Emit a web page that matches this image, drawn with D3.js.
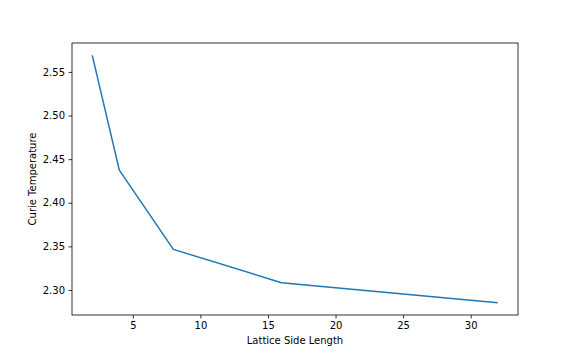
<!DOCTYPE html>
<html>
<head>
<meta charset="utf-8">
<script src="https://cdn.jsdelivr.net/npm/d3@7"></script>
<style>
  body { margin: 0; background: #fff; }
  text { font-family: "DejaVu Sans", sans-serif; }
</style>
</head>
<body>
<div id="chart"></div>
<script>
// Data
const sideLengths = [2, 4, 8, 16, 32]
const curieTemps = [2.569, 2.4375, 2.3466, 2.3084, 2.2855]
const xTicks = [5, 10, 15, 20, 25, 30]
const yTicks = [2.30, 2.35, 2.40, 2.45, 2.50, 2.55]

// Dimensions
const dims = { width: 576, height: 360, left: 72, right: 518, top: 43, bottom: 315 }

const svg = d3.select('#chart')
  .append('svg')
  .attr('width', dims.width)
  .attr('height', dims.height)

// Scales (matplotlib style 5% margins)
const xPad = (d3.max(sideLengths) - d3.min(sideLengths)) * 0.05
const yPad = (d3.max(curieTemps) - d3.min(curieTemps)) * 0.05
const xScale = d3.scaleLinear()
  .domain([d3.min(sideLengths) - xPad, d3.max(sideLengths) + xPad])
  .range([dims.left, dims.right])
const yScale = d3.scaleLinear()
  .domain([d3.min(curieTemps) - yPad, d3.max(curieTemps) + yPad])
  .range([dims.bottom, dims.top])

// Line
const line = d3.line()
  .x((d, i) => xScale(sideLengths[i]))
  .y(d => yScale(d))

svg.append('path')
  .datum(curieTemps)
  .attr('fill', 'none')
  .attr('stroke', '#1f77b4')
  .attr('stroke-width', 1.5)
  .attr('stroke-linejoin', 'round')
  .attr('d', line)

// Axes
const xAxis = d3.axisBottom(xScale)
  .tickValues(xTicks)
  .tickSize(3.5)
  .tickPadding(3.5)
  .tickSizeOuter(0)
  .tickFormat(d3.format('d'))
const yAxis = d3.axisLeft(yScale)
  .tickValues(yTicks)
  .tickSize(3.5)
  .tickPadding(3.5)
  .tickSizeOuter(0)
  .tickFormat(d3.format('.2f'))

const xg = svg.append('g')
  .attr('transform', `translate(0,${dims.bottom})`)
  .call(xAxis)
const yg = svg.append('g')
  .attr('transform', `translate(${dims.left},0)`)
  .call(yAxis)

for (const g of [xg, yg]) {
  g.select('.domain').remove()
  g.selectAll('line').attr('stroke', '#000').attr('stroke-width', 0.8)
  g.selectAll('text').attr('font-size', 10).attr('fill', '#000')
    .style('font-family', '"DejaVu Sans", sans-serif')
}

// Frame
svg.append('rect')
  .attr('x', dims.left)
  .attr('y', dims.top)
  .attr('width', dims.right - dims.left)
  .attr('height', dims.bottom - dims.top)
  .attr('fill', 'none')
  .attr('stroke', '#000')
  .attr('stroke-width', 0.8)

// Labels
svg.append('text')
  .attr('x', (dims.left + dims.right) / 2)
  .attr('y', 344)
  .attr('text-anchor', 'middle')
  .attr('font-size', 10)
  .text('Lattice Side Length')

svg.append('text')
  .attr('transform', `translate(36,${(dims.top + dims.bottom) / 2}) rotate(-90)`)
  .attr('text-anchor', 'middle')
  .attr('font-size', 10)
  .text('Curie Temperature')
</script>
</body>
</html>
